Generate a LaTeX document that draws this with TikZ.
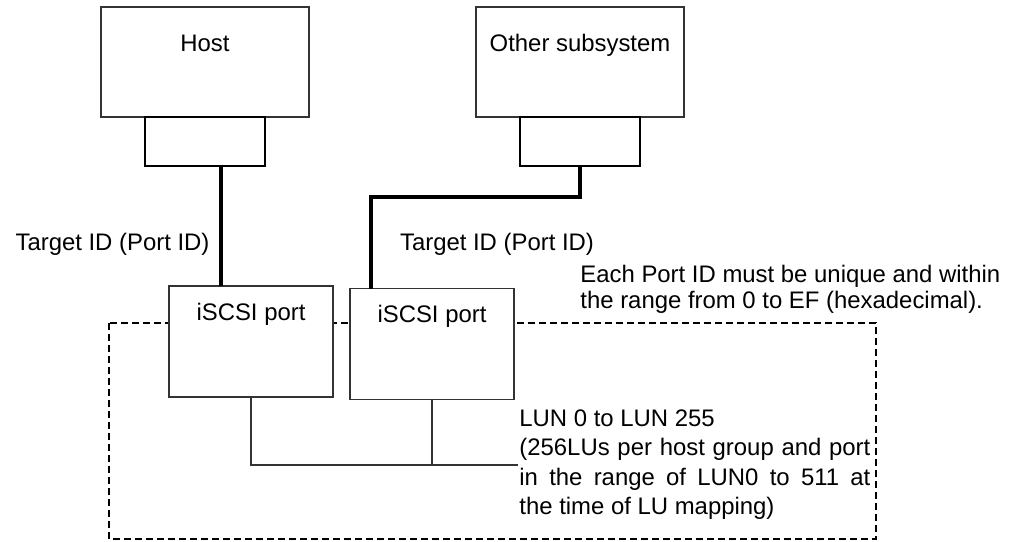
\documentclass[tikz,border=0pt]{standalone}
\usepackage{fontspec}
\setmainfont{Liberation Sans}
\usepackage{tikz}
\usetikzlibrary{positioning,calc}
\definecolor{boxgray}{HTML}{333333}
\tikzset{
  unit/.style={draw=boxgray, fill=white, line width=0.55pt, outer sep=0pt, minimum width=104pt, inner ysep=0pt, text height=22.2pt, text depth=32.8pt},
  plug/.style={draw=black, fill=white, line width=0.7pt, outer sep=0pt, minimum width=60pt, minimum height=24.5pt, inner sep=0pt},
  portbox/.style={draw=boxgray, fill=white, line width=0.55pt, outer sep=0pt, minimum width=82pt, inner ysep=0pt, text height=17.2pt, text depth=38.3pt},
  cable/.style={line width=1.9pt, draw=black},
  bus/.style={line width=0.6pt, draw=boxgray},
  zone/.style={draw=black, line width=1pt, dash pattern=on 3.5pt off 2pt},
  note/.style={inner sep=0pt, align=left}
}

\begin{document}
\begin{tikzpicture}[x=0.5pt, y=-0.5pt, font=\fontsize{11.95pt}{13pt}\selectfont]
  \useasboundingbox (0,0) rectangle (1010,541);
  \draw[zone] (109,323) rectangle (876,539);

  \node[unit, anchor=north west] (host) at (101,7) {Host};
  \node[unit, anchor=north west] (other) at (476,7) {Other subsystem};
  \node[plug, below=0pt of host] (hport) {};
  \node[plug, below=0pt of other] (oport) {};
  \node[portbox, anchor=north west] (iport1) at (169,286) {iSCSI port};
  \node[portbox, right=8.5pt of iport1, yshift=-1.25pt] (iport2) {iSCSI port};

  \node[note, anchor=base] (tid1) at (112.5,250.5) {Target ID (Port ID)};
  \node[note, anchor=base] (tid2) at (497,250.5) {Target ID (Port ID)};
  \node[note, anchor=north west] (rule) at (580,265) {Each Port ID must be unique and within\\the range from 0 to EF (hexadecimal).};
  \node[note, anchor=north west, text width=175.5pt, align=justify, font=\fontsize{11.95pt}{14.75pt}\selectfont] (lun) at (519,409) {LUN 0 to LUN 255\\(256LUs per host group and port\linebreak in the range of LUN0 to 511 at\linebreak the time of LU mapping)};

  \coordinate (lunend) at (518,465);
  \draw[cable] ([xshift=8pt]hport.south) -- ([xshift=8pt]hport.south |- iport1.north);
  \draw[cable] (oport.south) -- ++(0,31) -| ([xshift=10.5pt]iport2.north west);
  \draw[bus] (iport1.south) |- (lunend);
  \draw[bus] (iport2.south) -- (iport2.south |- lunend);
\end{tikzpicture}
\end{document}
